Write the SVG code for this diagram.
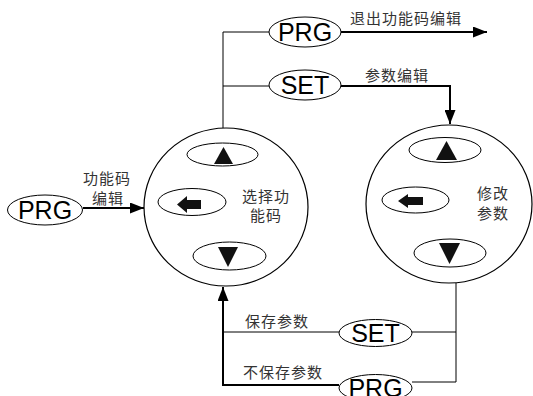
<svg xmlns="http://www.w3.org/2000/svg" width="533" height="396" viewBox="0 0 533 396">
<style>
.key{fill:#fff;stroke:#000;stroke-width:1}
.big{fill:#fff;stroke:#000;stroke-width:1.2}
.kt{font-family:"Liberation Sans",Arial,sans-serif;font-size:25px;fill:#000;text-anchor:middle}
.cn{font-family:"Noto Sans CJK SC","Noto Sans",sans-serif;font-size:15px;fill:#333;letter-spacing:1px}
.thin{fill:none;stroke:#000;stroke-width:1}
.thick{fill:none;stroke:#000;stroke-width:2}
.glyph{fill:#111}
</style>
<defs>
<marker id="ah" viewBox="0 0 14 11" refX="14" refY="5.5" markerWidth="14" markerHeight="11" markerUnits="userSpaceOnUse" orient="auto">
<path d="M0,0 L14,5.5 L0,11 Z" fill="#000"/>
</marker>
</defs>
<rect width="533" height="396" fill="#fff"/>
<g id="connectors">
<path class="thin" d="M223,128 V32 H269"/>
<path class="thin" d="M223,86 H269"/>
<path class="thick" d="M341,32 H487" marker-end="url(#ah)"/>
<path class="thick" d="M341,86 H450 V124" marker-end="url(#ah)"/>
<path class="thick" d="M83,208 H144" marker-end="url(#ah)"/>
<path class="thick" d="M339,385 H223 V287" marker-end="url(#ah)"/>
<path class="thin" d="M339,332 H223"/>
<path class="thin" d="M456,283 V382 H412"/>
<path class="thin" d="M412,332 H456"/>
</g>
<g id="prg-exit">
<ellipse class="key" cx="305" cy="32" rx="36" ry="15"/>
<text class="kt" x="305" y="41">PRG</text>
</g>
<g id="set-edit">
<ellipse class="key" cx="305" cy="85" rx="36" ry="15"/>
<text class="kt" x="305" y="94">SET</text>
</g>
<g id="prg-enter">
<ellipse class="key" cx="45" cy="210" rx="37.5" ry="15"/>
<text class="kt" x="45" y="219">PRG</text>
</g>
<g id="select-circle">
<ellipse class="big" cx="226" cy="207" rx="82" ry="79"/>
<ellipse class="key" cx="222.5" cy="154.5" rx="35.5" ry="11.5"/>
<path class="glyph" d="M214,164 L223.5,147 L233,164 Z"/>
<ellipse class="key" cx="192" cy="202" rx="34" ry="13.5"/>
<path class="glyph" d="M177,204.5 L187,196 L187,200 L201,200 L201,209 L187,209 L187,213 Z"/>
<ellipse class="key" cx="229.5" cy="256" rx="36.5" ry="14"/>
<path class="glyph" d="M218,247 L238,247 L228,267 Z"/>
<text class="cn" x="242" y="202">选择功</text>
<text class="cn" x="250" y="221">能码</text>
</g>
<g id="modify-circle">
<ellipse class="big" cx="449" cy="204" rx="83" ry="79"/>
<ellipse class="key" cx="445" cy="150" rx="36" ry="12.5"/>
<path class="glyph" d="M436,160 L446.5,141 L457,160 Z"/>
<ellipse class="key" cx="415.5" cy="200" rx="33.5" ry="13"/>
<path class="glyph" d="M398,201 L408,194 L408,197 L423,197 L423,205 L408,205 L408,208 Z"/>
<ellipse class="key" cx="450" cy="253" rx="36" ry="14"/>
<path class="glyph" d="M439,243 L460,243 L449.5,264 Z"/>
<text class="cn" x="477" y="199">修改</text>
<text class="cn" x="477" y="219">参数</text>
</g>
<g id="set-save">
<ellipse class="key" cx="375.5" cy="333" rx="36.5" ry="13.5"/>
<text class="kt" x="375.5" y="342">SET</text>
</g>
<g id="prg-nosave">
<ellipse class="key" cx="375.5" cy="388" rx="36.5" ry="13.5"/>
<text class="kt" x="375.5" y="397">PRG</text>
</g>
<g id="labels">
<text class="cn" x="350" y="24">退出功能码编辑</text>
<text class="cn" x="365" y="81">参数编辑</text>
<text class="cn" x="83" y="184">功能码</text>
<text class="cn" x="92" y="204">编辑</text>
<text class="cn" x="245" y="327">保存参数</text>
<text class="cn" x="243" y="378">不保存参数</text>
</g>
</svg>
